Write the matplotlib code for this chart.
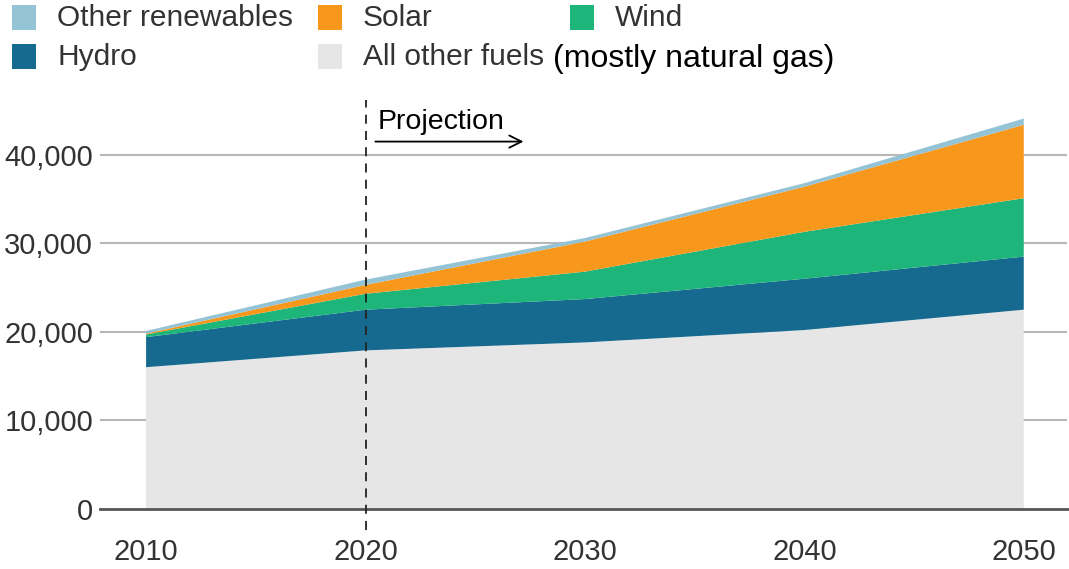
import matplotlib.pyplot as plt
from matplotlib.patches import Rectangle

plt.rcParams['font.family'] = ['Liberation Sans', 'DejaVu Sans']

# Electricity generation (stacked)
years = [2010, 2020, 2030, 2040, 2050]
all_other = [16000, 17900, 18800, 20200, 22500]
hydro = [3400, 4600, 4900, 5800, 6000]
wind = [300, 1800, 3100, 5300, 6600]
solar = [100, 1000, 3400, 5100, 8300]
other_renew = [300, 600, 400, 400, 700]

y_ticks = [0, 10000, 20000, 30000, 40000]
x_ticks = [2010, 2020, 2030, 2040, 2050]

colors = {
    'other': '#93c3d4',
    'solar': '#f7981d',
    'wind': '#1db57a',
    'hydro': '#176a8f',
    'all': '#e6e6e6',
}
text_col = '#333333'

fig = plt.figure(figsize=(10.69, 5.69), dpi=100)
W, H = 1069, 569
ax = fig.add_axes([100 / W, (H - 530) / H, (1067 - 100) / W, (530 - 100) / H])

ax.stackplot(years, all_other, hydro, wind, solar, other_renew,
             colors=[colors['all'], colors['hydro'], colors['wind'],
                     colors['solar'], colors['other']],
             linewidth=0, zorder=2)

ax.set_xlim(2007.9, 2051.97)
ax.set_ylim(-2400, 46200)

# grid lines
for t in y_ticks[1:]:
    ax.axhline(t, color='#b8b8b8', linewidth=1.5, zorder=1)
ax.axhline(0, xmax=1.01, color='#555555', linewidth=2, zorder=3, clip_on=False)

# projection marker
ax.axvline(2020, color='#222222', linewidth=1.3, linestyle=(0, (5, 4)), zorder=4)
ax.annotate('', xy=(2027.2, 41500), xytext=(2020.45, 41500),
            arrowprops=dict(arrowstyle='->', color='black', lw=1.3,
                            mutation_scale=22, shrinkA=0, shrinkB=0))
ax.text(2020.55, 42300, 'Projection', fontsize=20.5, color='black',
        ha='left', va='bottom')

ax.set_yticks(y_ticks)
ax.set_yticklabels([f'{v:,}' for v in y_ticks])
ax.set_xticks(x_ticks)
ax.tick_params(axis='both', length=0, labelsize=21, colors=text_col)
ax.tick_params(axis='y', pad=5)
ax.tick_params(axis='x', pad=6)
for s in ax.spines.values():
    s.set_visible(False)
ax.patch.set_alpha(0)

# legend drawn by hand
legend_items = [
    ('Other renewables', colors['other'], 12, 18),
    ('Solar', colors['solar'], 318, 18),
    ('Wind', colors['wind'], 570, 18),
    ('Hydro', colors['hydro'], 12, 57),
    ('All other fuels', colors['all'], 318, 57),
]
for label, c, x0, yc in legend_items:
    fig.patches.append(Rectangle((x0 / W, (H - yc - 12) / H), 24 / W, 25 / H,
                                 transform=fig.transFigure, facecolor=c,
                                 edgecolor='none'))
    fig.text((x0 + 45) / W, (H - yc) / H, label, fontsize=21.5, color=text_col,
             ha='left', va='center')
fig.text(553 / W, (H - 59) / H, '(mostly natural gas)', fontsize=23,
         color='black', ha='left', va='center')

fig.savefig('out.png', dpi=100)
